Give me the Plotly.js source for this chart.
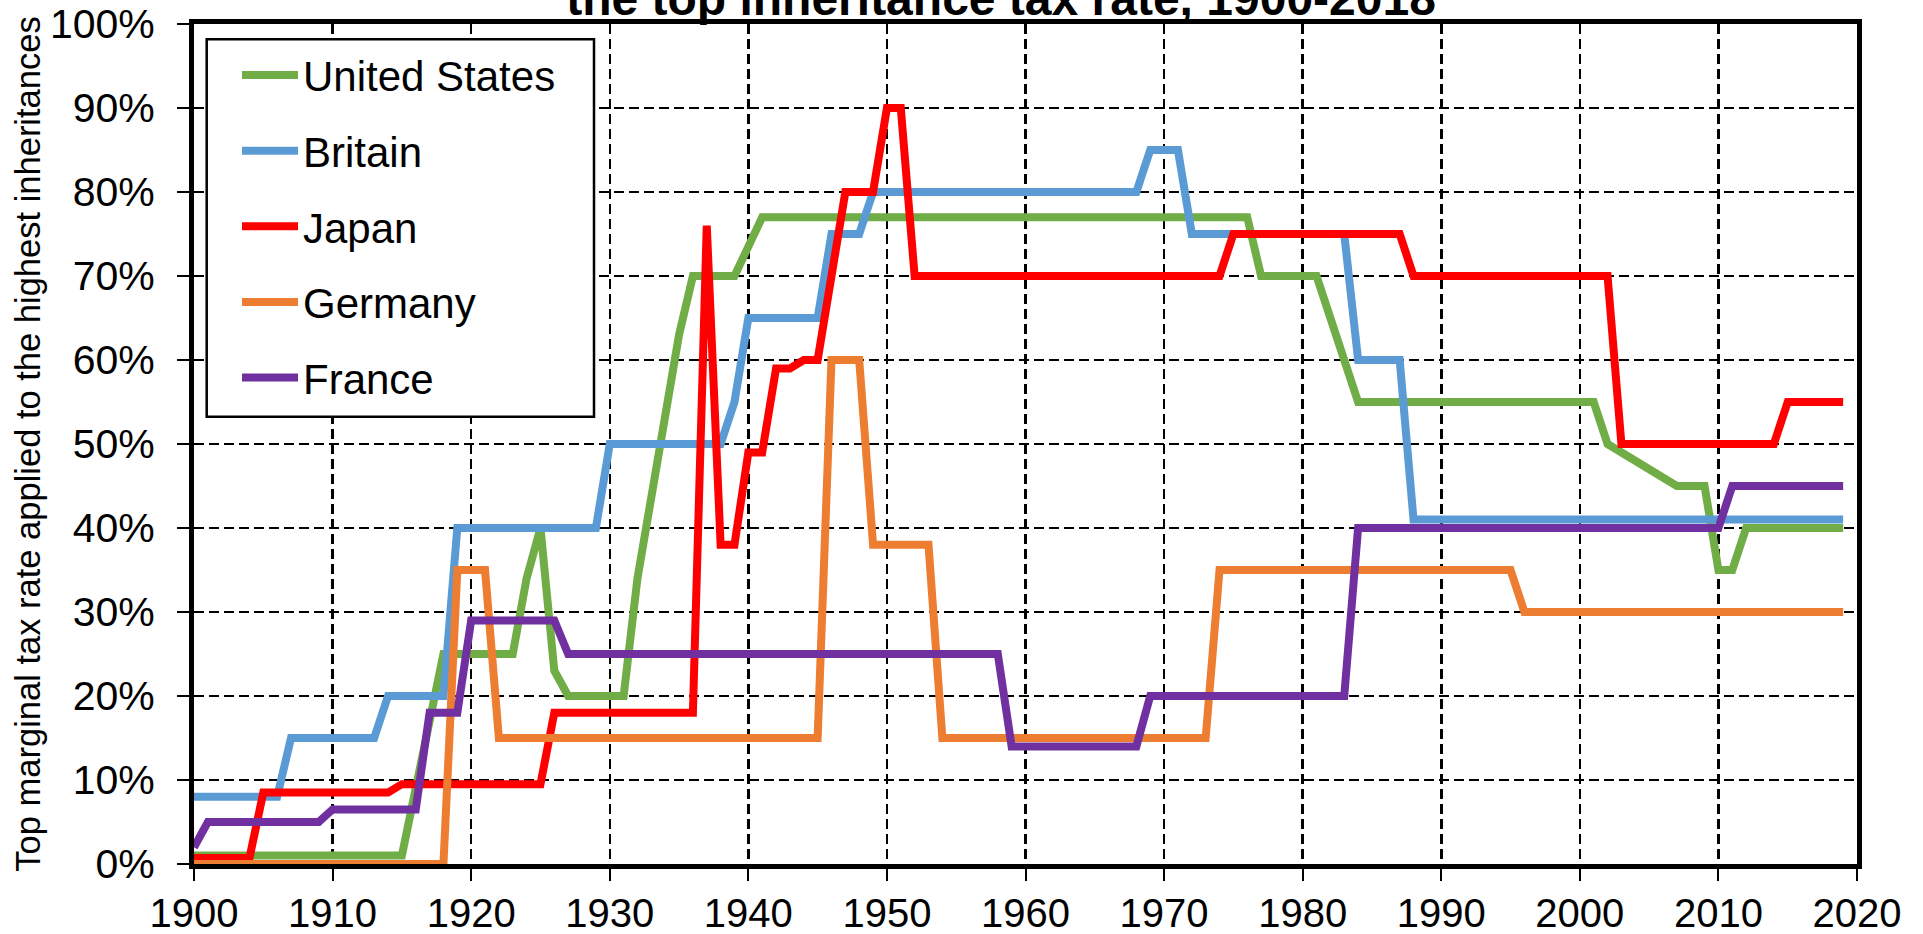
<!DOCTYPE html>
<html>
<head>
<meta charset="utf-8">
<script src="https://cdn.plot.ly/plotly-3.0.1.min.js"></script>
<style>html,body{margin:0;padding:0;background:#fff;}#chart{width:1923px;height:934px;}</style>
</head>
<body>
<div id="chart"></div>
<script>
const years = [
1900,1901,1902,1903,1904,1905,1906,1907,1908,1909,
1910,1911,1912,1913,1914,1915,1916,1917,1918,1919,
1920,1921,1922,1923,1924,1925,1926,1927,1928,1929,
1930,1931,1932,1933,1934,1935,1936,1937,1938,1939,
1940,1941,1942,1943,1944,1945,1946,1947,1948,1949,
1950,1951,1952,1953,1954,1955,1956,1957,1958,1959,
1960,1961,1962,1963,1964,1965,1966,1967,1968,1969,
1970,1971,1972,1973,1974,1975,1976,1977,1978,1979,
1980,1981,1982,1983,1984,1985,1986,1987,1988,1989,
1990,1991,1992,1993,1994,1995,1996,1997,1998,1999,
2000,2001,2002,2003,2004,2005,2006,2007,2008,2009,
2010,2011,2012,2013,2014,2015,2016,2017,2018,2019];

const unitedStates = [
1,1,1,1,1,1,1,1,1,1,
1,1,1,1,1,1,9,17,25,25,
25,25,25,25,34,40,23,20,20,20,
20,20,34,44,54,63,70,70,70,70,
73.5,77,77,77,77,77,77,77,77,77,
77,77,77,77,77,77,77,77,77,77,
77,77,77,77,77,77,77,77,77,77,
77,77,77,77,77,77,77,70,70,70,
70,70,65,60,55,55,55,55,55,55,
55,55,55,55,55,55,55,55,55,55,
55,55,50,49,48,47,46,45,45,45,
35,35,40,40,40,40,40,40,40,40];

const britain = [
8,8,8,8,8,8,8,15,15,15,
15,15,15,15,20,20,20,20,20,40,
40,40,40,40,40,40,40,40,40,40,
50,50,50,50,50,50,50,50,50,55,
65,65,65,65,65,65,75,75,75,80,
80,80,80,80,80,80,80,80,80,80,
80,80,80,80,80,80,80,80,80,85,
85,85,75,75,75,75,75,75,75,75,
75,75,75,75,60,60,60,60,41,41,
41,41,41,41,41,41,41,41,41,41,
41,41,41,41,41,41,41,41,41,41,
41,41,41,41,41,41,41,41,41,41];

const japan = [
0.7,0.7,0.7,0.7,0.7,8.5,8.5,8.5,8.5,8.5,
8.5,8.5,8.5,8.5,8.5,9.5,9.5,9.5,9.5,9.5,
9.5,9.5,9.5,9.5,9.5,9.5,18,18,18,18,
18,18,18,18,18,18,18,76,38,38,
49,49,59,59,60,60,70,80,80,80,
90,90,70,70,70,70,70,70,70,70,
70,70,70,70,70,70,70,70,70,70,
70,70,70,70,70,75,75,75,75,75,
75,75,75,75,75,75,75,75,70,70,
70,70,70,70,70,70,70,70,70,70,
70,70,70,50,50,50,50,50,50,50,
50,50,50,50,50,55,55,55,55,55];

const germany = [
0,0,0,0,0,0,0,0,0,0,
0,0,0,0,0,0,0,0,0,35,
35,35,15,15,15,15,15,15,15,15,
15,15,15,15,15,15,15,15,15,15,
15,15,15,15,15,15,60,60,60,38,
38,38,38,38,15,15,15,15,15,15,
15,15,15,15,15,15,15,15,15,15,
15,15,15,15,35,35,35,35,35,35,
35,35,35,35,35,35,35,35,35,35,
35,35,35,35,35,35,30,30,30,30,
30,30,30,30,30,30,30,30,30,30,
30,30,30,30,30,30,30,30,30,30];

const france = [
2,5,5,5,5,5,5,5,5,5,
6.5,6.5,6.5,6.5,6.5,6.5,6.5,18,18,18,
29,29,29,29,29,29,29,25,25,25,
25,25,25,25,25,25,25,25,25,25,
25,25,25,25,25,25,25,25,25,25,
25,25,25,25,25,25,25,25,25,14,
14,14,14,14,14,14,14,14,14,20,
20,20,20,20,20,20,20,20,20,20,
20,20,20,20,40,40,40,40,40,40,
40,40,40,40,40,40,40,40,40,40,
40,40,40,40,40,40,40,40,40,40,
40,45,45,45,45,45,45,45,45,45];

const seriesNames = ['United States','Britain','Japan','Germany','France'];
const seriesValues = [unitedStates, britain, japan, germany, france];
const seriesColors = ['#70AD47','#5B9BD5','#FF0000','#ED7D31','#7030A0'];
const titleText = 'the top inheritance tax rate, 1900-2018';
const yTitleText = 'Top marginal tax rate applied to the highest inheritances';

const FONT = 'Arial, "Liberation Sans", Helvetica, sans-serif';

const traces = seriesNames.map((name, i) => ({
  type: 'scatter',
  mode: 'lines',
  name: name,
  x: years,
  y: seriesValues[i],
  legendgroup: 'g' + i,
  cliponaxis: false,
  line: {color: seriesColors[i], width: 8},
  hoverinfo: 'x+y+name'
}));

const axisCommon = {
  showline: true, linecolor: '#000', linewidth: 5, mirror: true,
  ticks: 'outside', ticklen: 12, tickwidth: 2, tickcolor: '#000',
  showgrid: true, gridcolor: '#000', gridwidth: 2.5, griddash: '10px,5px',
  zeroline: false, layer: 'below traces',
  tickfont: {family: FONT, size: 41, color: '#000'}
};

// plot-area pixel geometry helpers (for legend frame placement)
const PL = 194, PW = 1663, PT = 24, PH = 840;
const px = v => (v - PL) / PW;
const py = v => 1 - (v - PT) / PH;

const layout = {
  width: 1923, height: 934,
  margin: {l: PL, r: 1923 - PL - PW, t: PT, b: 934 - PT - PH},
  paper_bgcolor: '#fff', plot_bgcolor: '#fff',
  font: {family: FONT, color: '#000'},
  title: {
    text: titleText,
    font: {family: FONT, size: 48, weight: 'bold', color: '#000'},
    x: 1001/1923, xref: 'container', xanchor: 'center',
    y: 1 - 15/934, yref: 'container', yanchor: 'bottom'
  },
  xaxis: Object.assign({}, axisCommon, {
    range: [1900, 2020], tick0: 1900, dtick: 10, ticklabelstandoff: -2,
    tickfont: {family: FONT, size: 40, color: '#000'}
  }),
  yaxis: Object.assign({}, axisCommon, {
    range: [0, 100], tick0: 0, dtick: 10, ticksuffix: '%', ticklabelstandoff: 14,
    title: {text: yTitleText, font: {family: FONT, size: 34.5, color: '#000'}, standoff: 0}
  }),
  shapes: [{
    type: 'rect', xref: 'paper', yref: 'paper', layer: 'above',
    x0: px(206.7), x1: px(594), y0: py(416.7), y1: py(39.3),
    fillcolor: '#fff', line: {color: '#000', width: 2.5}
  }],
  showlegend: true,
  legend: {
    x: px(237), y: py(41.3), xanchor: 'left', yanchor: 'top',
    bgcolor: 'rgba(0,0,0,0)', borderwidth: 0,
    font: {family: FONT, size: 42, color: '#000'},
    itemwidth: 56, tracegroupgap: 18, traceorder: 'grouped'
  }
};

Plotly.newPlot('chart', traces, layout, {displayModeBar: false, staticPlot: true});
</script>
</body>
</html>
